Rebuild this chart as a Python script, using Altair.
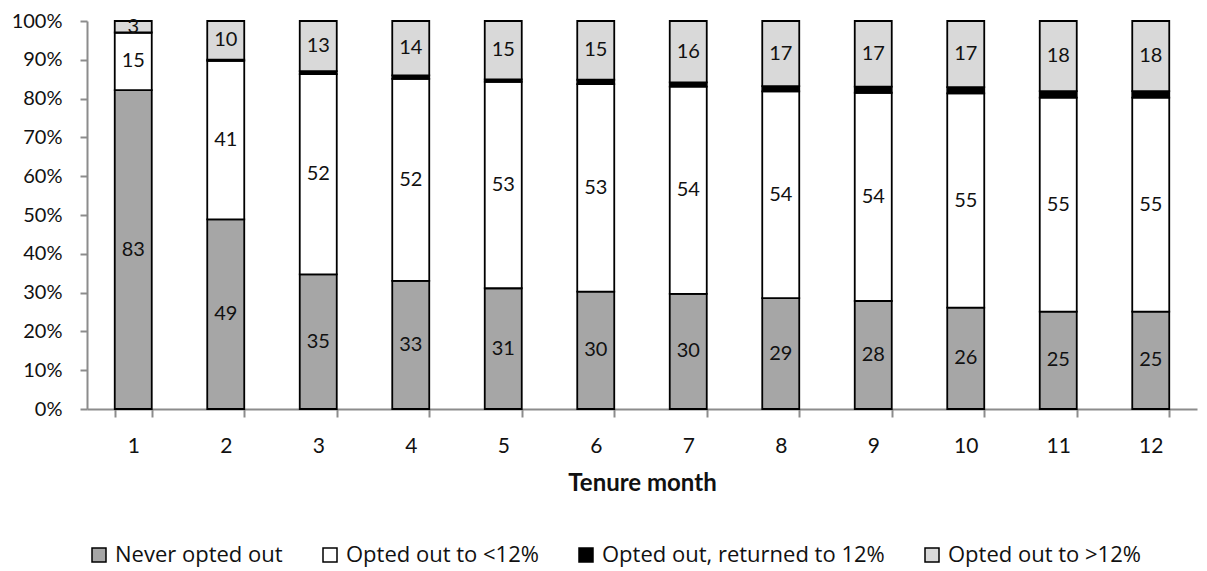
import altair as alt
import pandas as pd

months = list(range(1, 13))
series = ["Never opted out", "Opted out to <12%", "Opted out, returned to 12%", "Opted out to >12%"]
never = [83, 49, 35, 33, 31, 30, 30, 29, 28, 26, 25, 25]
below = [15, 41, 52, 52, 53, 53, 54, 54, 54, 55, 55, 55]
returned = [0.0, 0.3, 0.8, 0.9, 0.6, 1.1, 1.1, 1.4, 1.6, 1.6, 1.7, 1.7]
above = [3, 10, 13, 14, 15, 15, 16, 17, 17, 17, 18, 18]
colors = ["#a6a6a6", "#ffffff", "#000000", "#d9d9d9"]

rows = []
for i, m in enumerate(months):
    for k, (name, vals) in enumerate(zip(series, [never, below, returned, above])):
        rows.append({"month": m, "series": name, "order": k, "value": vals[i]})
df = pd.DataFrame(rows)

FONT = "Lato"

base = alt.Chart(df).transform_stack(
    stack="value", as_=["y0", "y1"], groupby=["month"],
    sort=[alt.SortField("order", "ascending")], offset="normalize"
).transform_calculate(mid="(datum.y0 + datum.y1) / 2")

xaxis = alt.Axis(labelAngle=0, tickBand="extent", tickSize=8, labelPadding=18,
                 titlePadding=15, titleFontSize=24, titleFontWeight="bold",
                 labelFontSize=21, domainColor="#8c8c8c", tickColor="#8c8c8c",
                 domainWidth=2, tickWidth=2, labelColor="#111", titleColor="#111")
yaxis = alt.Axis(format=".0%", grid=False, tickCount=10,
                 labelOverlap=False, tickSize=7, labelPadding=18, labelFontSize=20,
                 domainColor="#8c8c8c", tickColor="#8c8c8c", domainWidth=2,
                 tickWidth=2, labelColor="#111")
xscale = alt.Scale(paddingInner=0.6, paddingOuter=0.3)
yscale = alt.Scale(domain=[0, 1], nice=False)

bars = base.mark_bar(stroke="black", strokeWidth=1.8).encode(
    x=alt.X("month:O", title="Tenure month", scale=xscale, axis=xaxis),
    y=alt.Y("y0:Q", title=None, scale=yscale, axis=yaxis),
    y2="y1:Q",
    color=alt.Color("series:N", scale=alt.Scale(domain=series, range=colors),
                    legend=alt.Legend(title=None, orient="none", direction="horizontal",
                                      legendX=1, legendY=523, symbolType="square",
                                      symbolSize=196, symbolStrokeColor="black",
                                      symbolStrokeWidth=1.5, labelFontSize=22,
                                      labelFont="Open Sans", labelLimit=0,
                                      labelColor="#111", columnPadding=36,
                                      symbolOffset=0, labelOffset=5, padding=0)),
)

labels = base.transform_filter(
    alt.datum.order != 2
).mark_text(fontSize=20, color="#111", font=FONT).encode(
    x=alt.X("month:O", title="Tenure month", scale=xscale, axis=xaxis),
    y=alt.Y("mid:Q", title=None, scale=yscale, axis=yaxis),
    text=alt.Text("value:Q", format=".0f"),
)

chart = (bars + labels).properties(
    width=1110, height=388,
    autosize=alt.AutoSizeParams(type="none"),
    padding={"left": 79, "top": 13, "right": 2, "bottom": 162},
).configure(font=FONT).configure_view(stroke=None)

chart.save("out.html", embed_options={"renderer": "svg", "actions": False})
